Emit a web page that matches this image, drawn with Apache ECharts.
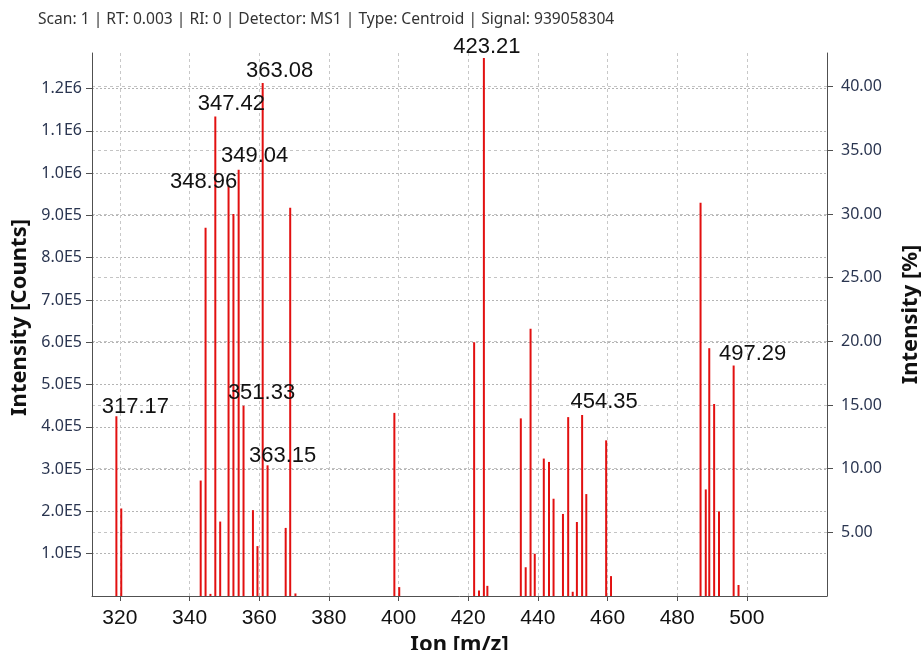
<!DOCTYPE html>
<html>
<head>
<meta charset="utf-8">
<title>Spectrum</title>
<script src="https://cdn.jsdelivr.net/npm/echarts@6/dist/echarts.min.js"></script>
<style>
  html, body { margin: 0; padding: 0; background: #fff; }
  #chart { width: 921px; height: 650px; }
</style>
</head>
<body>
<div id="chart"></div>
<script>
// centroid peaks: m/z and intensity (counts)
const mz = [
  319.0, 320.4, 343.2, 344.6, 346.0, 347.4, 348.8, 351.2, 352.6, 354.1,
  355.5, 358.2, 359.5, 361.0, 362.4, 367.6, 368.9, 370.4,
  398.8, 400.2, 421.7, 423.1, 424.5, 425.5, 435.1, 436.5, 437.9, 439.1,
  441.7, 443.2, 444.5, 447.2, 448.7, 450.0, 451.2, 452.7, 453.9, 459.6, 461.0,
  486.7, 488.2, 489.2, 490.6, 492.0, 496.2, 497.6
]
const counts = [
  425000, 207000, 273000, 871000, 5000, 1134000, 176000, 970000, 903000, 1008000,
  450000, 203000, 118000, 1213000, 309000, 161000, 918000, 6000,
  433000, 21000, 600000, 13000, 1272000, 24000, 420000, 68000, 632000, 100000,
  325000, 317000, 230000, 194000, 423000, 10000, 175000, 428000, 241000, 368000, 47000,
  930000, 252000, 586000, 454000, 200000, 545000, 26000
]

// annotated peaks
const labelMz = [319.0, 347.4, 351.2, 354.1, 355.5, 361.0, 362.4, 424.5, 452.7, 496.2]
const labelText = ['317.17', '347.42', '348.96', '349.04', '351.33', '363.08', '363.15', '423.21', '454.35', '497.29']

const xTicks = [320, 340, 360, 380, 400, 420, 440, 460, 480, 500]
const countTicks = [100000, 200000, 300000, 400000, 500000, 600000, 700000, 800000, 900000, 1000000, 1100000, 1200000]
const percentTicks = [5, 10, 15, 20, 25, 30, 35, 40]

const titleText = 'Scan: 1 | RT: 0.003 | RI: 0 | Detector: MS1 | Type: Centroid | Signal: 939058304'

// label nudges in px, same order as labelMz
const labelShift = [[19, 2], [16, -1], [-25, 7], [16, -3], [18, -2], [17, -1], [15, 2], [3, 0], [22, -2], [19, -1]]

const axisColor = '#505050'
const tickFont = 'Noto Sans'
const titleFont = { fontFamily: 'Noto Sans', fontWeight: 'bold', fontSize: 22, color: '#111' }

const peakData = mz.map((x, i) => {
  const k = labelMz.indexOf(x)
  const item = { value: [x, counts[i]] }
  if (k >= 0) {
    item.label = { show: true, formatter: labelText[k], offset: labelShift[k] }
  }
  return item
})

const chart = echarts.init(document.getElementById('chart'), null, { renderer: 'canvas' })

const option = {
  animation: false,
  backgroundColor: '#fff',
  title: {
    text: titleText,
    left: 38,
    top: 12,
    padding: 0,
    textStyle: { fontFamily: tickFont, fontSize: 15.6, fontWeight: 'normal', color: '#333' }
  },
  grid: { left: 92, right: 94, top: 53, bottom: 54, outerBoundsMode: 'none' },
  xAxis: {
    type: 'value',
    min: 312,
    max: 523,
    name: 'Ion [m/z]',
    nameLocation: 'middle',
    nameGap: 27,
    nameTextStyle: titleFont,
    axisLine: { show: true, onZero: false, lineStyle: { color: axisColor } },
    axisTick: { show: true, length: 5, customValues: xTicks, lineStyle: { color: axisColor } },
    axisLabel: {
      customValues: xTicks,
      margin: 12,
      fontFamily: 'Liberation Sans',
      fontSize: 21,
      color: '#111'
    },
    splitLine: { show: true, lineStyle: { color: '#c8c8c8', type: [3, 3] } }
  },
  yAxis: [
    {
      type: 'value',
      position: 'left',
      min: 0,
      max: 1284000,
      name: 'Intensity [Counts]',
      nameLocation: 'middle',
      nameRotate: 90,
      nameGap: 61,
      nameTextStyle: Object.assign({ padding: [0, 0, 0, 14] }, titleFont),
      axisLine: { show: true, lineStyle: { color: axisColor } },
      axisTick: { show: true, length: 6, customValues: countTicks, lineStyle: { color: axisColor } },
      axisLabel: {
        customValues: countTicks,
        margin: 10,
        formatter: v => v.toExponential(1).toUpperCase().replace('+', ''),
        fontFamily: tickFont,
        fontSize: 16,
        color: '#2a3550'
      },
      splitLine: { show: true, lineStyle: { color: '#b4b4b4', type: [2, 2] } }
    },
    {
      type: 'value',
      position: 'right',
      min: 0,
      max: 42.64,
      name: 'Intensity [%]',
      nameLocation: 'middle',
      nameRotate: 90,
      nameGap: 73,
      nameTextStyle: Object.assign({ padding: [0, 0, 0, 20] }, titleFont),
      axisLine: { show: true, lineStyle: { color: axisColor } },
      axisTick: { show: true, length: 6, customValues: percentTicks, lineStyle: { color: axisColor } },
      axisLabel: {
        customValues: percentTicks,
        margin: 14,
        formatter: v => v.toFixed(2),
        fontFamily: tickFont,
        fontSize: 16,
        color: '#2a3550'
      },
      splitLine: { show: true, lineStyle: { color: '#c4c4c4', type: [3, 3] } }
    }
  ],
  series: [
    {
      type: 'bar',
      xAxisIndex: 0,
      yAxisIndex: 0,
      barWidth: 2,
      silent: true,
      itemStyle: { color: '#e21010' },
      label: {
        show: false,
        position: 'top',
        distance: 0,
        fontFamily: 'Liberation Sans',
        fontSize: 22,
        color: '#111'
      },
      data: peakData
    }
  ]
}

chart.setOption(option)
</script>
</body>
</html>
